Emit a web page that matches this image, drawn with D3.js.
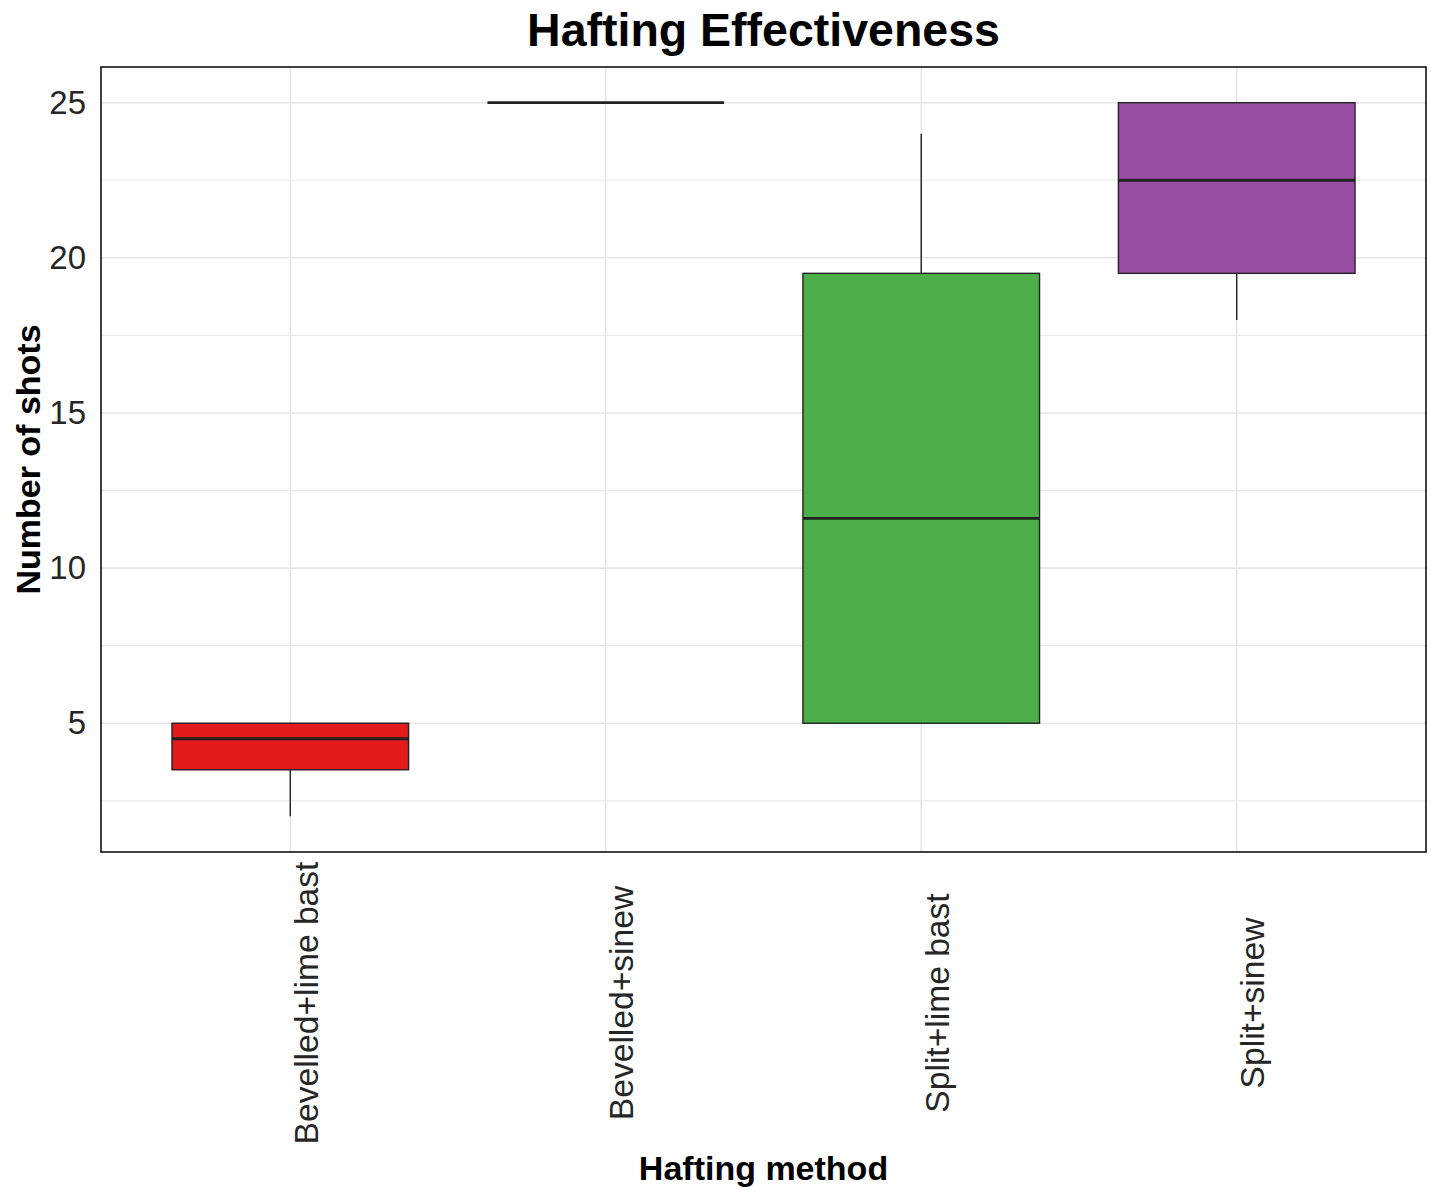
<!DOCTYPE html>
<html>
<head>
<meta charset="utf-8">
<script src="https://cdn.jsdelivr.net/npm/d3@7"></script>
<style>
  body { margin: 0; background: #fff; }
  text { font-family: "Liberation Sans", Arial, sans-serif; }
</style>
</head>
<body>
<div id="chart"></div>
<script>
// Box plot summaries
const methods = ["Bevelled+lime bast", "Bevelled+sinew", "Split+lime bast", "Split+sinew"];
const whiskerLow = [2, 25, 5, 18];
const q1s = [3.5, 25, 5, 19.5];
const medians = [4.5, 25, 11.6, 22.5];
const q3s = [5, 25, 19.5, 25];
const whiskerHigh = [5, 25, 24, 25];
const fills = ["#E41A1C", "#377EB8", "#4DAF4A", "#984EA3"];
const yTicks = [5, 10, 15, 20, 25];
const yMinor = [2.5, 7.5, 12.5, 17.5, 22.5];

const data = methods.map((m, i) => ({
    method: m,
    low: whiskerLow[i], q1: q1s[i], median: medians[i], q3: q3s[i], high: whiskerHigh[i],
    fill: fills[i]
}));

// Dimensions and panel position
const W = 1431, H = 1187;
const margin = { top: 67, right: 5, bottom: 335, left: 101 },
      width = W - margin.left - margin.right,
      height = H - margin.top - margin.bottom;

const svg = d3.select("#chart")
    .append("svg")
    .attr("width", W)
    .attr("height", H);

const g = svg.append("g")
    .attr("transform", `translate(${margin.left},${margin.top})`);

// Scales (ggplot-like expansion: 0.6 unit for discrete, 5% for continuous)
const x = d3.scalePoint()
    .domain(methods)
    .range([0, width])
    .padding(0.6);

const yLo = d3.min(whiskerLow), yHi = d3.max(whiskerHigh);
const pad = (yHi - yLo) * 0.05;
const y = d3.scaleLinear()
    .domain([yLo - pad, yHi + pad])
    .range([height, 0]);

// Gridlines
g.append("g")
    .selectAll("line")
    .data(yMinor)
    .join("line")
    .attr("x1", 0).attr("x2", width)
    .attr("y1", d => y(d)).attr("y2", d => y(d))
    .attr("stroke", "#ebebeb")
    .attr("stroke-width", 1.2);

g.append("g")
    .selectAll("line")
    .data(yTicks)
    .join("line")
    .attr("x1", 0).attr("x2", width)
    .attr("y1", d => y(d)).attr("y2", d => y(d))
    .attr("stroke", "#e6e6e6")
    .attr("stroke-width", 1.6);

g.append("g")
    .selectAll("line")
    .data(methods)
    .join("line")
    .attr("x1", d => x(d)).attr("x2", d => x(d))
    .attr("y1", 0).attr("y2", height)
    .attr("stroke", "#e6e6e6")
    .attr("stroke-width", 1.6);

// Boxes
const boxWidth = x.step() * 0.75;

data.forEach(d => {
    const cx = x(d.method);

    // whiskers
    g.append("line")
        .attr("x1", cx).attr("x2", cx)
        .attr("y1", y(d.low)).attr("y2", y(d.q1))
        .attr("stroke", "#222")
        .attr("stroke-width", 1.4);
    g.append("line")
        .attr("x1", cx).attr("x2", cx)
        .attr("y1", y(d.q3)).attr("y2", y(d.high))
        .attr("stroke", "#222")
        .attr("stroke-width", 1.4);

    // box
    g.append("rect")
        .attr("x", cx - boxWidth / 2)
        .attr("y", y(d.q3))
        .attr("width", boxWidth)
        .attr("height", y(d.q1) - y(d.q3))
        .attr("fill", d.fill)
        .attr("stroke", "#222")
        .attr("stroke-width", 1.4);

    // median
    g.append("line")
        .attr("x1", cx - boxWidth / 2).attr("x2", cx + boxWidth / 2)
        .attr("y1", y(d.median)).attr("y2", y(d.median))
        .attr("stroke", "#222")
        .attr("stroke-width", 2.8);
});

// Panel border
g.append("rect")
    .attr("width", width)
    .attr("height", height)
    .attr("fill", "none")
    .attr("stroke", "#111")
    .attr("stroke-width", 1.6);

// Y axis
const yAxis = g.append("g")
    .call(d3.axisLeft(y).tickValues(yTicks).tickSize(0).tickPadding(15));
yAxis.select(".domain").remove();
yAxis.selectAll("text")
    .attr("font-family", "Liberation Sans, Arial, sans-serif")
    .attr("font-size", 33)
    .attr("fill", "#262626");

// X axis with vertical labels
const xAxis = g.append("g")
    .attr("transform", `translate(0,${height})`)
    .call(d3.axisBottom(x).tickSize(0));
xAxis.select(".domain").remove();
xAxis.selectAll("text")
    .attr("font-family", "Liberation Sans, Arial, sans-serif")
    .attr("font-size", 33.6)
    .attr("fill", "#262626")
    .attr("transform", "rotate(-90)")
    .attr("text-anchor", "middle")
    .attr("x", -151)
    .attr("y", 27)
    .attr("dy", 0);

// Title
svg.append("text")
    .attr("x", margin.left + width / 2)
    .attr("y", 46)
    .attr("text-anchor", "middle")
    .attr("font-size", 46.5)
    .attr("font-weight", "bold")
    .attr("fill", "#000")
    .text("Hafting Effectiveness");

// Axis titles
svg.append("text")
    .attr("x", margin.left + width / 2)
    .attr("y", 1180)
    .attr("text-anchor", "middle")
    .attr("font-size", 34)
    .attr("font-weight", "bold")
    .attr("fill", "#000")
    .text("Hafting method");

svg.append("text")
    .attr("transform", "rotate(-90)")
    .attr("x", -(margin.top + height / 2))
    .attr("y", 40)
    .attr("text-anchor", "middle")
    .attr("font-size", 34)
    .attr("font-weight", "bold")
    .attr("fill", "#000")
    .text("Number of shots");
</script>
</body>
</html>
